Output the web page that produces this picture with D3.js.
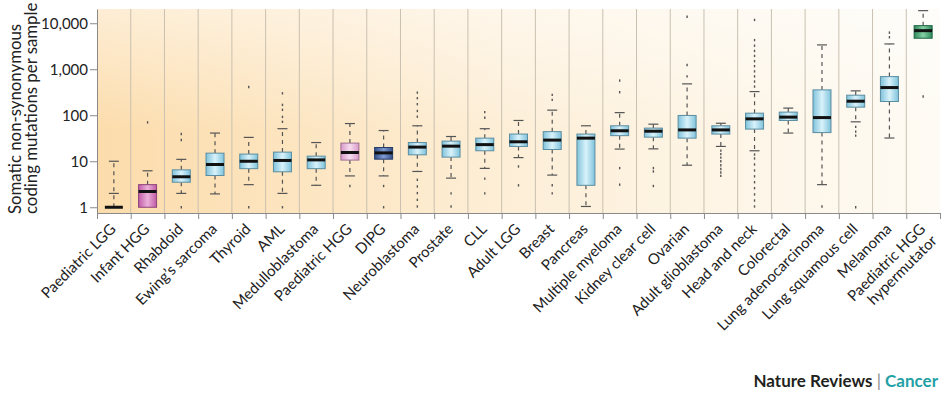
<!DOCTYPE html>
<html>
<head>
<meta charset="utf-8">
<script src="https://cdn.jsdelivr.net/npm/d3@7"></script>
<style>
  body { margin: 0; background: #fff; }
  svg { display: block; font-family: Lato, "Open Sans", sans-serif; }
</style>
</head>
<body>
<div id="chart"></div>
<script>
"use strict";

const categories = ["Paediatric LGG", "Infant HGG", "Rhabdoid", "Ewing\u2019s sarcoma", "Thyroid", "AML",
  "Medulloblastoma", "Paediatric HGG", "DIPG", "Neuroblastoma", "Prostate", "CLL", "Adult LGG", "Breast",
  "Pancreas", "Multiple myeloma", "Kidney clear cell", "Ovarian", "Adult glioblastoma", "Head and neck",
  "Colorectal", "Lung adenocarcinoma", "Lung squamous cell", "Melanoma", "Paediatric HGG\nhypermutator"];

// box plot values
const whiskerLow  = [1, 1, 2, 1.95, 3.1, 2, 3, 4.8, 4.8, 6, 4.3, 7, 12, 5, 1.04, 18.4, 18.6, 8.2, 21, 16.9, 41, 3.1, 72, 32, 4720];
const q1          = [1, 1, 3.5, 4.9, 6.9, 5.9, 6.9, 10.6, 11.1, 13.8, 12.3, 16.9, 21, 18, 3, 36, 33.4, 31.8, 39, 50, 77, 42, 150, 199, 4720];
const median      = [1, 2.2, 4.6, 8.5, 10, 10.4, 10.7, 15.5, 15.2, 20.3, 21.3, 23, 26.5, 28.8, 31.8, 46, 45, 48, 48, 83.5, 91, 89, 202, 400, 6900];
const q3          = [1, 3.1, 6.5, 15, 14.3, 15.8, 12.9, 24.8, 19.9, 25.5, 27.4, 31.8, 39, 44, 39, 59, 52.5, 99, 59, 111, 117, 356, 273, 692, 8870];
const whiskerHigh = [10, 6.2, 11, 41, 33, 51, 25.5, 66, 46.5, 59, 34.5, 51, 77, 129, 59, 114, 64, 481, 67, 327, 143, 3380, 339, 3550, 18800];
const innerCap    = [2, null, null, null, null, null, null, null, null, null, null, null, null, null, null, null, null, null, null, null, null, null, null, null, null];
const outliers = [
  [],
  [70],
  [1, 29, 39],
  [],
  [1, 410],
  [1, 72, 92, 131, 168, 300],
  [],
  [2.9],
  [1, 2.9],
  [1.04, 1.45, 2.03, 2.83, 3.95, 93, 124, 174, 235, 310],
  [1.04, 2],
  [2, 4.2, 88, 117],
  [3, 7.7],
  [2, 3, 216, 277],
  [],
  [3.1, 7.1, 317, 567],
  [2.9, 6, 7.1],
  [700, 1240, 13800],
  [4.8, 5.7, 6.8, 8.2, 10, 12, 14.3, 17],
  [1.04, 1.4, 1.9, 2.6, 3.5, 4.7, 6.3, 8.5, 11.5, 14, 420, 540, 700, 900, 1170, 1500, 1950, 2500, 3250, 4300, 11800],
  [],
  [1.04],
  [1, 36, 44, 56],
  [4960, 6250],
  [255]
];
const yTicks = [1, 10, 100, 1000, 10000];

const boxColour = {
  "Infant HGG": ["#c15ba6", "#eab0da"],
  "Paediatric HGG": ["#d99ac8", "#f6dcef"],
  "DIPG": ["#34518c", "#7f9ad0"],
  "Paediatric HGG\nhypermutator": ["#2f8a5c", "#84cfa3"]
};
const defaultColour = ["#7fc3dc", "#d9f2fa"];

const W = 946, H = 393;
const svg = d3.select("#chart").append("svg").attr("width", W).attr("height", H);
const defs = svg.append("defs");

const x = d3.scaleBand().domain(categories).range([97, 940]);
const xEdge = d3.scaleLinear().domain([0, categories.length]).range([97, 940]);
const y = d3.scaleLog().domain([0.75, 20400]).range([213, 9]);

const bg = defs.append("linearGradient").attr("id", "bg").attr("x1", 0).attr("x2", 1).attr("y1", 0).attr("y2", 0);
bg.append("stop").attr("offset", 0).attr("stop-color", "#fcdcab");
bg.append("stop").attr("offset", 0.5).attr("stop-color", "#fdefd8");
bg.append("stop").attr("offset", 1).attr("stop-color", "#fefbf4");
const fade = defs.append("linearGradient").attr("id", "fade").attr("x1", 0).attr("x2", 0).attr("y1", 0).attr("y2", 1);
fade.append("stop").attr("offset", 0).attr("stop-color", "#fff").attr("stop-opacity", 0.5);
fade.append("stop").attr("offset", 0.6).attr("stop-color", "#fff").attr("stop-opacity", 0);

const plotX = xEdge(0), plotY = y.range()[1];
const plotW = xEdge(categories.length) - xEdge(0), plotH = y.range()[0] - y.range()[1];
svg.append("rect").attr("x", plotX).attr("y", plotY).attr("width", plotW).attr("height", plotH).attr("fill", "url(#bg)");
svg.append("rect").attr("x", plotX).attr("y", plotY).attr("width", plotW).attr("height", plotH).attr("fill", "url(#fade)");

// column separators
svg.append("g").selectAll("line")
  .data(d3.range(1, categories.length))
  .join("line")
  .attr("x1", d => xEdge(d)).attr("x2", d => xEdge(d))
  .attr("y1", y.range()[1]).attr("y2", y.range()[0])
  .attr("stroke", "#c9c0b0").attr("stroke-width", 1);

// gradients for boxes
categories.forEach((c, i) => {
  const col = boxColour[c] || defaultColour;
  const g = defs.append("linearGradient").attr("id", "box" + i).attr("x1", 0).attr("x2", 1).attr("y1", 0).attr("y2", 0);
  g.append("stop").attr("offset", 0).attr("stop-color", col[0]);
  g.append("stop").attr("offset", 0.5).attr("stop-color", col[1]);
  g.append("stop").attr("offset", 1).attr("stop-color", col[0]);
});

const boxW = 18, capW = 10;
const rows = categories.map((c, i) => ({
  c, i, lo: whiskerLow[i], q1: q1[i], med: median[i], q3: q3[i], hi: whiskerHigh[i],
  inner: innerCap[i], out: outliers[i]
}));

const box = svg.append("g").selectAll("g").data(rows).join("g")
  .attr("transform", d => "translate(" + (x(d.c) + x.bandwidth() / 2) + ",0)");

const ink = "#555";
// whiskers
box.append("line")
  .attr("y1", d => y(d.q3)).attr("y2", d => y(d.hi))
  .attr("stroke", ink).attr("stroke-width", 1.2).attr("stroke-dasharray", "4,4");
box.append("line")
  .attr("y1", d => y(d.q1)).attr("y2", d => y(d.lo))
  .attr("stroke", ink).attr("stroke-width", 1.2).attr("stroke-dasharray", "4,4");
// caps
box.selectAll("line.cap")
  .data(d => [d.lo, d.hi, d.inner].filter((v, k) => v != null && !(k === 0 && v === d.q1)))
  .join("line").attr("class", "cap")
  .attr("x1", -capW / 2).attr("x2", capW / 2)
  .attr("y1", v => y(v)).attr("y2", v => y(v))
  .attr("stroke", ink).attr("stroke-width", 1.2);
// outliers
box.selectAll("line.out")
  .data(d => d.out)
  .join("line").attr("class", "out")
  .attr("y1", v => y(v) - 1.2).attr("y2", v => y(v) + 1.2)
  .attr("stroke", ink).attr("stroke-width", 1.4);
// boxes
box.filter(d => d.q3 > d.q1).append("rect")
  .attr("x", -boxW / 2).attr("width", boxW)
  .attr("y", d => y(d.q3)).attr("height", d => y(d.q1) - y(d.q3))
  .attr("fill", d => "url(#box" + d.i + ")")
  .attr("stroke", d => d3.color((boxColour[d.c] || defaultColour)[0]).darker(0.9))
  .attr("stroke-width", 1);
// medians
box.append("line")
  .attr("x1", -boxW / 2).attr("x2", boxW / 2)
  .attr("y1", d => y(d.med)).attr("y2", d => y(d.med))
  .attr("stroke", "#111").attr("stroke-width", 3);

// y axis
const yAxis = svg.append("g").attr("transform", "translate(97,0)")
  .call(d3.axisLeft(y).tickValues(yTicks).tickFormat(d3.format(",")).tickSize(7).tickSizeOuter(0).tickPadding(2));
yAxis.select(".domain").attr("stroke", "#8a8a8a");
yAxis.selectAll(".tick line").attr("stroke", "#8a8a8a");
yAxis.selectAll(".tick text").attr("font-size", 15).attr("fill", "#222").attr("font-family", "Lato, sans-serif");

// x axis (ticks at column edges)
const xAxis = svg.append("g").attr("transform", "translate(0,213)")
  .call(d3.axisBottom(xEdge).tickValues(d3.range(categories.length + 1)).tickFormat("").tickSize(6).tickSizeOuter(0));
xAxis.select(".domain").attr("stroke", "#8a8a8a");
xAxis.selectAll(".tick line").attr("stroke", "#8a8a8a");

const labels = svg.append("g").selectAll("text").data(categories).join("text")
  .attr("transform", d => "translate(" + (x(d) + x.bandwidth() / 2 + 3) + ",230) rotate(-45)")
  .attr("text-anchor", "end")
  .attr("font-size", 15).attr("fill", "#222");
labels.selectAll("tspan").data(d => d.split("\n")).join("tspan")
  .attr("x", 0).attr("dy", (d, k) => k === 0 ? 0 : "1.1em")
  .text(d => d);

// y title
svg.append("text")
  .attr("transform", "translate(21,214) rotate(-90)")
  .attr("font-size", 16.8).attr("fill", "#222")
  .selectAll("tspan").data(["Somatic non-synonymous", "coding mutations per sample"]).join("tspan")
  .attr("x", 0).attr("dy", (d, k) => k === 0 ? 0 : 16)
  .text(d => d);

// credit
const credit = svg.append("text").attr("x", 938).attr("y", 387)
  .attr("text-anchor", "end").attr("font-size", 17).attr("font-weight", 700);
credit.append("tspan").attr("fill", "#231f20").text("Nature Reviews ");
credit.append("tspan").attr("fill", "#8a8a8a").attr("font-weight", 400).text("|");
credit.append("tspan").attr("fill", "#23a0a6").text(" Cancer");
</script>
</body>
</html>
